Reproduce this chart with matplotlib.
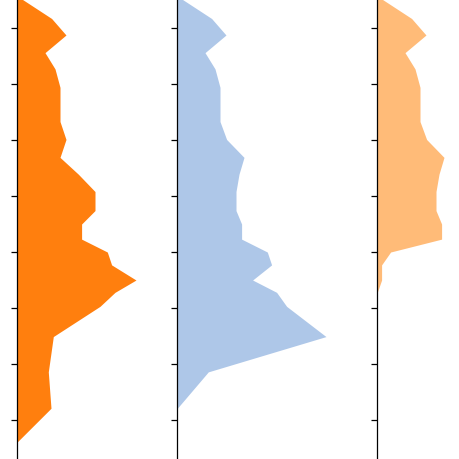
import numpy as np
import matplotlib
matplotlib.use("Agg")
import matplotlib.pyplot as plt

# vertical positions of the profile vertices (axis units, ticks at 0..70)
levels = [75.2, 71.7, 68.75, 65.6, 62.7, 59.4, 53.3, 50.1, 46.9, 43.9, 40.8,
          37.4, 35.0, 32.3, 30.0, 27.7, 25.0, 22.8, 20.3, 14.9, 8.6, 2.1, -3.9]

series_a = [4.3, 34.3, 48.7, 27.7, 37.7, 42.7, 42.7, 48.7, 42.7, 61, 77.7,
            77.7, 64.3, 64.3, 90, 94.3, 118.7, 97.7, 82.7, 36, 31, 33.7, 0]
series_b = [4.3, 34.3, 48.7, 27.7, 37.7, 42.7, 42.7, 49.3, 66.7, 61.7, 58.7,
            58.7, 64.3, 64.3, 90, 94.3, 75.3, 99.3, 109.3, 148.7, 31, 0, 0]
series_c = [4.3, 34.3, 48.7, 27.7, 37.7, 42.7, 42.7, 49.3, 66.7, 61.7, 58.7,
            58.7, 64.3, 64.3, 13.3, 4.3, 4.3, 0, 0, 0, 0, 0, 0]

colors = ["#ff7f0e", "#aec7e8", "#ffbb78"]
ticks = np.arange(0, 80, 10)

W = 460
panels = [(17.3, 160), (177.3, 200), (377.3, 90)]

fig = plt.figure(figsize=(4.6, 4.6), dpi=100)
for (left, width), vals, col in zip(panels, [series_a, series_b, series_c], colors):
    ax = fig.add_axes([left / W, 0, width / W, 1])
    ax.fill_betweenx(levels, 0, vals, color=col, linewidth=0)
    ax.set_xlim(0, width)
    ax.set_ylim(-6.96, 75.18)
    ax.set_yticks(ticks)
    ax.set_yticklabels([])
    ax.set_xticks([])
    for s in ["top", "right", "bottom"]:
        ax.spines[s].set_visible(False)
    ax.spines["left"].set_linewidth(0.9)
    ax.tick_params(axis="y", length=4, width=0.9, color="black")
    ax.patch.set_alpha(0)

fig.savefig("out.png", dpi=100)
